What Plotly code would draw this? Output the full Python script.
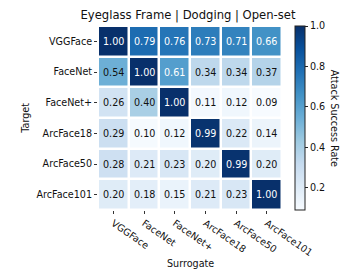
import plotly.graph_objects as go

surrogates = ["VGGFace", "FaceNet", "FaceNet+", "ArcFace18", "ArcFace50", "ArcFace101"]
targets = ["VGGFace", "FaceNet", "FaceNet+", "ArcFace18", "ArcFace50", "ArcFace101"]
values = [
    [1.00, 0.79, 0.76, 0.73, 0.71, 0.66],
    [0.54, 1.00, 0.61, 0.34, 0.34, 0.37],
    [0.26, 0.40, 1.00, 0.11, 0.12, 0.09],
    [0.29, 0.10, 0.12, 0.99, 0.22, 0.14],
    [0.28, 0.21, 0.23, 0.20, 0.99, 0.20],
    [0.20, 0.18, 0.15, 0.21, 0.23, 1.00],
]
cbar_ticks = [0.2, 0.4, 0.6, 0.8, 1.0]

blues = ['rgb(247,251,255)', 'rgb(222,235,247)', 'rgb(198,219,239)', 'rgb(158,202,225)',
         'rgb(107,174,214)', 'rgb(66,146,198)', 'rgb(33,113,181)', 'rgb(8,81,156)', 'rgb(8,48,107)']
cscale = [[i / (len(blues) - 1), c] for i, c in enumerate(blues)]

FONT = "DejaVu Sans"
flat = [v for row in values for v in row]
zmin, zmax = min(flat), max(flat)

fig = go.Figure(go.Heatmap(
    z=values, x=surrogates, y=targets,
    colorscale=cscale, zmin=zmin, zmax=zmax,
    xgap=2.5, ygap=2.5,
    colorbar=dict(
        thickness=10, len=1.0, lenmode="fraction", y=0.5, yanchor="middle",
        x=1.0707, xanchor="left", xpad=0, ypad=0,
        outlinecolor="#222", outlinewidth=1,
        tickvals=cbar_ticks, ticktext=[f"{t:.1f}" for t in cbar_ticks],
        ticks="outside", ticklen=3, tickcolor="#222",
        tickfont=dict(family=FONT, size=9.6, color="#111"),
    ),
    hoverinfo="skip",
))

annotations = []
for i, t in enumerate(targets):
    for j, s in enumerate(surrogates):
        v = values[i][j]
        annotations.append(dict(
            x=s, y=t, xref="x", yref="y", text=f"{v:.2f}", showarrow=False,
            font=dict(family=FONT, size=9.6, color="white" if v > 0.6 else "#111"),
        ))

annotations += [
    dict(text="Surrogate", x=0.5, y=-0.29, xref="paper", yref="paper", yanchor="middle",
         showarrow=False, font=dict(family=FONT, size=9.6, color="#111")),
    dict(text="Target", x=-0.398, y=0.5, xref="paper", yref="paper", textangle=-90,
         xanchor="center", yanchor="middle",
         showarrow=False, font=dict(family=FONT, size=9.6, color="#111")),
    dict(text="Attack Success Rate", x=1.29, y=0.5, xref="paper", yref="paper", textangle=90,
         xanchor="center", yanchor="middle",
         showarrow=False, font=dict(family=FONT, size=9.6, color="#111")),
]

fig.update_layout(
    width=349, height=279,
    margin=dict(l=98, r=67, t=26, b=69, autoexpand=False),
    paper_bgcolor="white", plot_bgcolor="white",
    title=dict(text="Eyeglass Frame | Dodging | Open-set", x=188 / 349, xanchor="center",
               y=1 - 15 / 279, yanchor="middle",
               font=dict(family=FONT, size=11.6, color="#111")),
    xaxis=dict(showgrid=False, zeroline=False, ticks="outside", ticklen=3, tickcolor="#333",
               tickangle=35, automargin=False,
               tickfont=dict(family=FONT, size=9.6, color="#111"), showline=False),
    yaxis=dict(showgrid=False, zeroline=False, ticks="outside", ticklen=3, tickcolor="#333",
               autorange="reversed", automargin=False,
               tickfont=dict(family=FONT, size=9.6, color="#111"), showline=False),
    annotations=annotations,
)

fig.write_html("out.html", config={"displayModeBar": False},
               post_script="document.body.style.margin='0';document.body.style.overflow='hidden';")
